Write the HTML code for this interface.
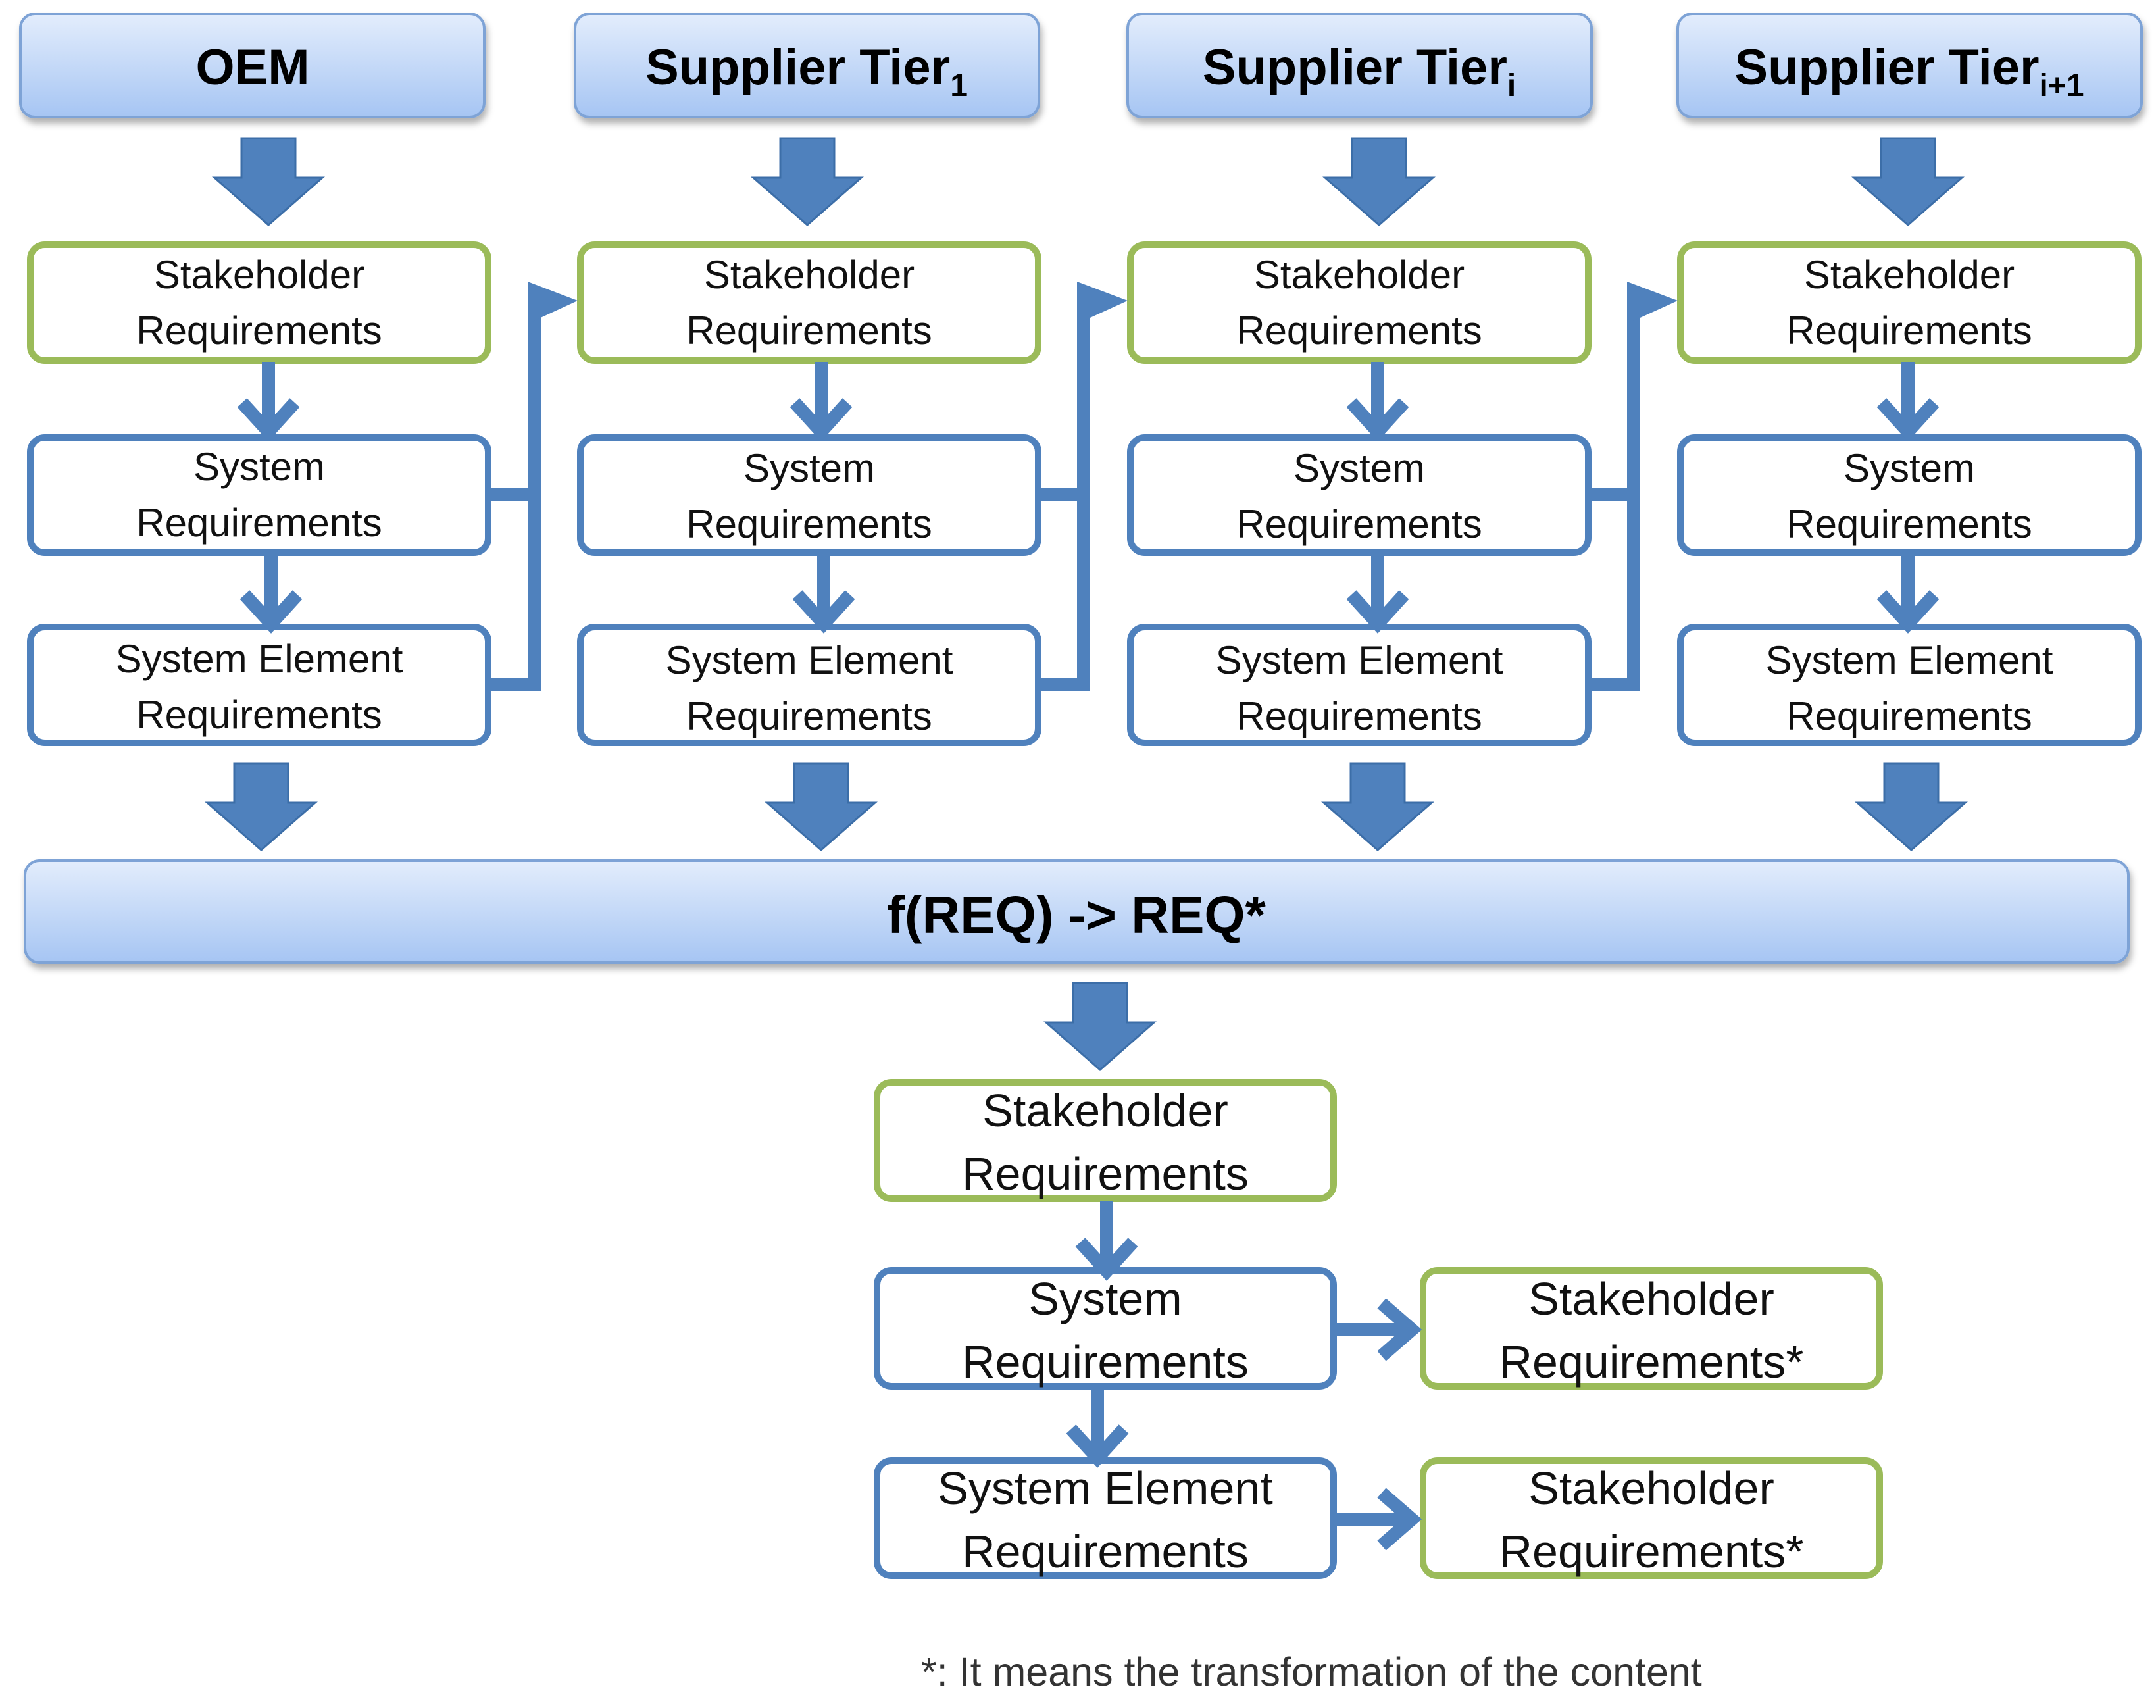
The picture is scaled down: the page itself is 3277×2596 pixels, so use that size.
<!DOCTYPE html>
<html><head><meta charset="utf-8"><style>
html,body{margin:0;padding:0;background:#fff;}
svg{display:block;}
</style></head><body>
<svg width="3277" height="2596" viewBox="0 0 3277 2596" xmlns="http://www.w3.org/2000/svg" font-family="Liberation Sans, sans-serif">
<defs>
<linearGradient id="hg" x1="0" y1="0" x2="0" y2="1">
<stop offset="0" stop-color="#e3edfc"/><stop offset="1" stop-color="#a6c5f3"/>
</linearGradient>
<filter id="sh" x="-5%" y="-20%" width="110%" height="150%"><feDropShadow dx="3" dy="8" stdDeviation="5" flood-color="#000" flood-opacity="0.3"/></filter>
<g id="fat"><path d="M-41,0 H41 V60 H82 L0,132 L-82,60 H-41 Z" fill="#4f81bd" stroke="#3c6ea8" stroke-width="3"/></g>
<g id="sm"><path d="M0,0 V100 M-40,62 L0,106 L40,62" fill="none" stroke="#4f81bd" stroke-width="20" stroke-linejoin="miter"/></g>
<g id="rt"><path d="M0,0 H110 M70,-40 L116,0 L70,40" fill="none" stroke="#4f81bd" stroke-width="20"/></g>
</defs>

<g filter="url(#sh)" fill="url(#hg)" stroke="#7ea3d6" stroke-width="4">
<rect x="31" y="21" width="705" height="157" rx="22"/>
<rect x="874" y="21" width="705" height="157" rx="22"/>
<rect x="1714" y="21" width="705" height="157" rx="22"/>
<rect x="2550" y="21" width="705" height="157" rx="22"/>
<rect x="38" y="1308" width="3197" height="155" rx="22"/>
</g>
<g font-weight="bold" font-size="76" text-anchor="middle" fill="#000">
<text x="384" y="128">OEM</text>
<text x="1226" y="128">Supplier Tier<tspan font-size="48" dy="18">1</tspan></text>
<text x="2066" y="128">Supplier Tier<tspan font-size="48" dy="18">i</tspan></text>
<text x="2902" y="128">Supplier Tier<tspan font-size="48" dy="18">i+1</tspan></text>
<text x="1636" y="1418" font-size="80">f(REQ) -&gt; REQ*</text>
</g>

<use href="#fat" x="408" y="210"/>
<use href="#fat" x="1227" y="210"/>
<use href="#fat" x="2096" y="210"/>
<use href="#fat" x="2900" y="210"/>
<use href="#fat" x="397" y="1160"/>
<use href="#fat" x="1248" y="1160"/>
<use href="#fat" x="2094" y="1160"/>
<use href="#fat" x="2905" y="1160"/>
<use href="#fat" x="1672" y="1494"/>

<g fill="#fff" stroke-width="10">
<g stroke="#9bbb59">
<rect x="46" y="372" width="696" height="176" rx="22"/>
<rect x="882" y="372" width="696" height="176" rx="22"/>
<rect x="1718" y="372" width="696" height="176" rx="22"/>
<rect x="2554" y="372" width="696" height="176" rx="22"/>
<rect x="1333" y="1645" width="694" height="177" rx="22"/>
<rect x="2163" y="1931" width="694" height="176" rx="22"/>
<rect x="2163" y="2220" width="694" height="175" rx="22"/>
</g>
<g stroke="#4f81bd">
<rect x="46" y="665" width="696" height="175" rx="22"/>
<rect x="882" y="665" width="696" height="175" rx="22"/>
<rect x="1718" y="665" width="696" height="175" rx="22"/>
<rect x="2554" y="665" width="696" height="175" rx="22"/>
<rect x="46" y="953" width="696" height="176" rx="22"/>
<rect x="882" y="953" width="696" height="176" rx="22"/>
<rect x="1718" y="953" width="696" height="176" rx="22"/>
<rect x="2554" y="953" width="696" height="176" rx="22"/>
<rect x="1333" y="1931" width="694" height="176" rx="22"/>
<rect x="1333" y="2220" width="694" height="175" rx="22"/>
</g>
</g>

<use href="#sm" x="408" y="550"/><use href="#sm" x="412" y="842"/>
<use href="#sm" x="1248" y="550"/><use href="#sm" x="1252" y="842"/>
<use href="#sm" x="2094" y="550"/><use href="#sm" x="2094" y="842"/>
<use href="#sm" x="2900" y="550"/><use href="#sm" x="2900" y="842"/>
<use href="#sm" x="1682" y="1826"/>
<use href="#sm" x="1668" y="2110"/>
<use href="#rt" x="2030" y="2021"/>
<use href="#rt" x="2030" y="2309"/>

<g fill="none" stroke="#4f81bd" stroke-width="20">
<path d="M747,752 H812 M747,1040 H822 M812,1050 V455"/>
<path d="M1583,752 H1647 M1583,1040 H1657 M1647,1050 V455"/>
<path d="M2419,752 H2483 M2419,1040 H2493 M2483,1050 V455"/>
</g>
<g fill="#4f81bd">
<path d="M802,428 L878,457 L802,492 Z"/>
<path d="M1637,428 L1714,457 L1637,492 Z"/>
<path d="M2473,428 L2550,457 L2473,492 Z"/>
</g>

<g font-size="60" text-anchor="middle" fill="#111">
<text x="394" y="438">Stakeholder</text><text x="394" y="523">Requirements</text>
<text x="1230" y="438">Stakeholder</text><text x="1230" y="523">Requirements</text>
<text x="2066" y="438">Stakeholder</text><text x="2066" y="523">Requirements</text>
<text x="2902" y="438">Stakeholder</text><text x="2902" y="523">Requirements</text>
<text x="394" y="730">System</text><text x="394" y="815">Requirements</text>
<text x="1230" y="732">System</text><text x="1230" y="817">Requirements</text>
<text x="2066" y="732">System</text><text x="2066" y="817">Requirements</text>
<text x="2902" y="732">System</text><text x="2902" y="817">Requirements</text>
<text x="394" y="1022">System Element</text><text x="394" y="1107">Requirements</text>
<text x="1230" y="1024">System Element</text><text x="1230" y="1109">Requirements</text>
<text x="2066" y="1024">System Element</text><text x="2066" y="1109">Requirements</text>
<text x="2902" y="1024">System Element</text><text x="2902" y="1109">Requirements</text>
</g>
<g font-size="70" text-anchor="middle" fill="#111">
<text x="1680" y="1712">Stakeholder</text><text x="1680" y="1808">Requirements</text>
<text x="1680" y="1998">System</text><text x="1680" y="2094">Requirements</text>
<text x="1680" y="2286">System Element</text><text x="1680" y="2382">Requirements</text>
<text x="2510" y="1998">Stakeholder</text><text x="2510" y="2094">Requirements*</text>
<text x="2510" y="2286">Stakeholder</text><text x="2510" y="2382">Requirements*</text>
</g>
<text x="1400" y="2562" font-size="61" fill="#333">*: It means the transformation of the content</text>
</svg>
</body></html>
